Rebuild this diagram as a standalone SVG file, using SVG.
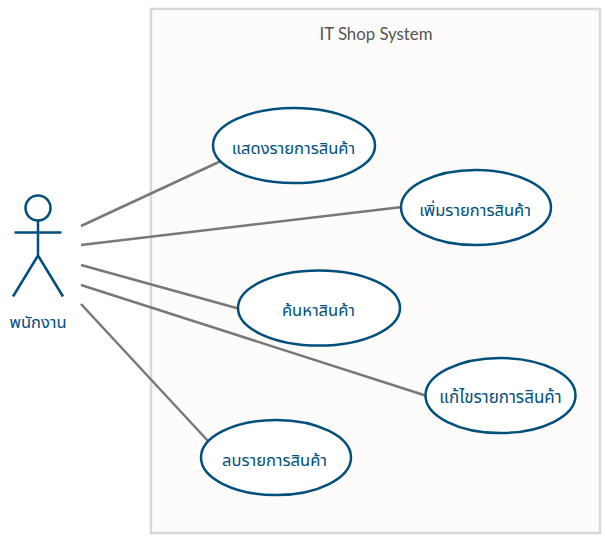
<svg xmlns="http://www.w3.org/2000/svg" width="605" height="540" viewBox="0 0 605 540">
<style>
.u{fill:#fff;stroke:#004f7c;stroke-width:2.5}
.t{font-family:"Lato","Noto Sans","Noto Sans Thai",sans-serif;font-size:16.500px;fill:#004f7c;text-anchor:middle}
.c{stroke:#7a7876;stroke-width:2.5;fill:none}
.a{stroke:#004f7c;stroke-width:2.5;fill:none}
</style>
<rect id="boundary" x="151" y="9" width="449" height="524" fill="#fdfcfb" stroke="#d8d8d8" stroke-width="2.5"/>
<text x="376" y="40" font-family="Lato,sans-serif" font-size="16.800" fill="#555" text-anchor="middle">IT Shop System</text>
<g id="connectors">
<path class="c" d="M81 226L221 161"/>
<path class="c" d="M81 245L402 207"/>
<path class="c" d="M81 265L240 309"/>
<path class="c" d="M81 285L427 396"/>
<path class="c" d="M81 304L208 441"/>
</g>
<g id="actor">
<circle class="a" cx="38" cy="208" r="12.500"/>
<path class="a" d="M38 220.500V255.500M14.500 232.500H61.500M38 255.500L13 296.500M38 255.500L63 296.500"/>
<text class="t" x="38" y="328">พนักงาน</text>
</g>
<g id="uc1"><ellipse class="u" cx="294" cy="145.500" rx="81" ry="37.500"/><text class="t" x="293.500" y="153.500">แสดงรายการสินค้า</text></g>
<g id="uc2"><ellipse class="u" cx="476" cy="207.500" rx="75" ry="37.500"/><text class="t" x="475" y="216">เพิ่มรายการสินค้า</text></g>
<g id="uc3"><ellipse class="u" cx="319" cy="308" rx="81" ry="37.500"/><text class="t" x="318.500" y="315.500">ค้นหาสินค้า</text></g>
<g id="uc4"><ellipse class="u" cx="500.500" cy="395.500" rx="75" ry="37.500"/><text class="t" x="500.500" y="403" style="font-size:17px">แก้ไขรายการสินค้า</text></g>
<g id="uc5"><ellipse class="u" cx="276" cy="457.500" rx="75" ry="37.500"/><text class="t" x="274.500" y="465.500">ลบรายการสินค้า</text></g>
</svg>
